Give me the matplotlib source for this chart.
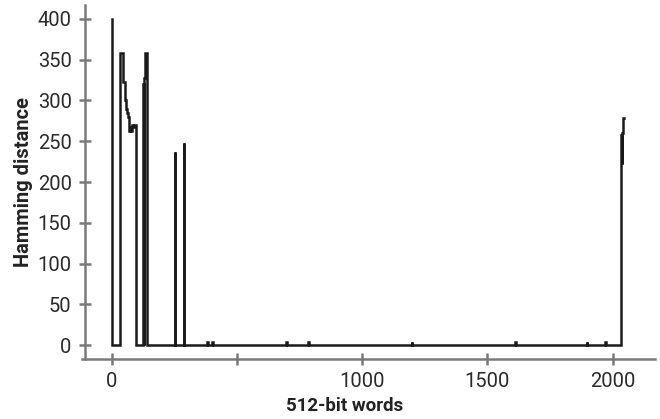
"""
Hamming distance per 512-bit word, recreated as a step trace.
"""

import numpy as np
import matplotlib
matplotlib.use("Agg")
import matplotlib.pyplot as plt

# Word index where each value starts (values hold until the next word).
WORDS = [0, 1, 2, 31, 44, 52, 55, 58, 61, 65, 68, 70, 73, 76, 79, 85, 90,
         97, 124, 127, 128, 134, 139, 252, 253, 289, 290, 381, 383, 401, 403,
         696, 698, 785, 787, 1197, 1199, 1610, 1612, 1896, 1898, 1970, 1972,
         2034, 2036, 2038, 2043, 2047]
HAMMING = [400, 384, 0, 358, 323, 300, 295, 290, 285, 280, 275, 262, 268,
           262, 270, 268, 270,
           0, 320, 0, 328, 358, 0, 237, 0, 248, 0, 4, 0, 4, 0,
           4, 0, 4, 0, 4, 0, 4, 0, 4, 0, 4, 0,
           258, 222, 260, 279, 279]

X_TICKS = [0, 500, 1000, 1500, 2000]
X_TICK_LABELS = ["0", "", "1000", "1500", "2000"]
Y_TICKS = [0, 50, 100, 150, 200, 250, 300, 350, 400]

AXIS_GREY = "#7a7a7a"
TEXT_COLOUR = "#222222"

plt.rcParams["font.family"] = ["Roboto", "DejaVu Sans"]

fig = plt.figure(figsize=(6.6, 4.19), dpi=100)
ax = fig.add_axes([0.124, 0.143, 0.868, 0.845])

ax.plot(WORDS, HAMMING, drawstyle="steps-post", color="#1a1a1a",
        linewidth=1.8, solid_joinstyle="miter")

ax.set_xlim(-120, 2168)
ax.set_ylim(-17, 417)

for side in ["top", "right"]:
    ax.spines[side].set_visible(False)
ax.spines["left"].set_position(("data", -108))
for side in ["left", "bottom"]:
    ax.spines[side].set_color(AXIS_GREY)
    ax.spines[side].set_linewidth(1.8)

ax.set_xticks(X_TICKS)
ax.set_xticklabels(X_TICK_LABELS)
ax.set_yticks(Y_TICKS)
ax.tick_params(direction="inout", length=9, width=1.8, color=AXIS_GREY,
               labelsize=14.5, labelcolor="#2a2a2a", pad=5)

ax.set_xlabel("512-bit words", fontsize=13.5, fontweight="bold",
              color=TEXT_COLOUR)
ax.set_ylabel("Hamming distance", fontsize=14.5, fontweight="bold",
              color=TEXT_COLOUR)
ax.xaxis.set_label_coords(0.458, -0.108)
ax.yaxis.set_label_coords(-0.085, 0.5)

fig.savefig("out.png", dpi=100)
